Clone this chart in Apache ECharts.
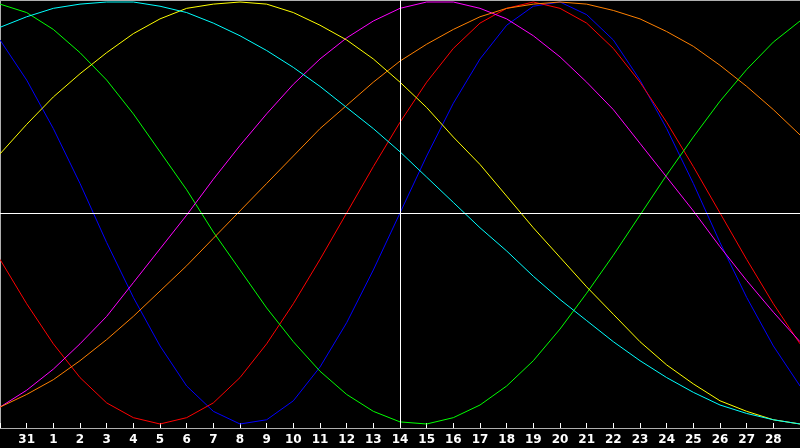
<!DOCTYPE html>
<html>
<head>
<meta charset="utf-8">
<script src="https://cdn.jsdelivr.net/npm/echarts@6/dist/echarts.min.js"></script>
<style>
  html, body { margin: 0; padding: 0; background: #000; }
  #chart { width: 800px; height: 448px; }
</style>
</head>
<body>
<div id="chart"></div>
<script>
// days shown on the axis (first and last are the edges, no label)
var dayLabels = ['30', '31', '1', '2', '3', '4', '5', '6', '7', '8', '9', '10', '11', '12', '13', '14',
    '15', '16', '17', '18', '19', '20', '21', '22', '23', '24', '25', '26', '27', '28', '29'];
var today = '14';

var physical = [0.82, 0.63, 0.40, 0.14, -0.14, -0.40, -0.63, -0.82, -0.94, -1.00, -0.98, -0.89, -0.73, -0.52, -0.27,
    0.00, 0.27, 0.52, 0.73, 0.89, 0.98, 1.00, 0.94, 0.82, 0.63, 0.40, 0.14, -0.14, -0.40, -0.63, -0.82];
var emotional = [-0.22, -0.43, -0.62, -0.78, -0.90, -0.97, -1.00, -0.97, -0.90, -0.78, -0.62, -0.43, -0.22, 0.00, 0.22,
    0.43, 0.62, 0.78, 0.90, 0.97, 1.00, 0.97, 0.90, 0.78, 0.62, 0.43, 0.22, 0.00, -0.22, -0.43, -0.62];
var intellectual = [0.99, 0.95, 0.87, 0.76, 0.63, 0.47, 0.29, 0.11, -0.09, -0.27, -0.45, -0.61, -0.75, -0.86, -0.94,
    -0.99, -1.00, -0.97, -0.91, -0.82, -0.70, -0.55, -0.38, -0.20, -0.01, 0.18, 0.36, 0.53, 0.68, 0.81, 0.91];
var intuitive = [-0.92, -0.84, -0.74, -0.62, -0.49, -0.33, -0.17, -0.01, 0.16, 0.32, 0.47, 0.61, 0.73, 0.83, 0.91,
    0.97, 1.00, 1.00, 0.97, 0.92, 0.84, 0.74, 0.62, 0.49, 0.33, 0.17, 0.01, -0.16, -0.32, -0.47, -0.61];
var aesthetic = [0.28, 0.42, 0.55, 0.66, 0.76, 0.85, 0.92, 0.97, 0.99, 1.00, 0.99, 0.95, 0.89, 0.82, 0.73,
    0.62, 0.50, 0.36, 0.23, 0.08, -0.07, -0.21, -0.35, -0.48, -0.61, -0.72, -0.81, -0.89, -0.94, -0.98, -1.00];
var awareness = [-0.92, -0.86, -0.79, -0.70, -0.60, -0.49, -0.37, -0.25, -0.12, 0.01, 0.14, 0.27, 0.40, 0.51, 0.62,
    0.72, 0.80, 0.87, 0.93, 0.97, 0.99, 1.00, 0.99, 0.96, 0.92, 0.86, 0.79, 0.70, 0.60, 0.49, 0.37];
var spiritual = [0.88, 0.93, 0.97, 0.99, 1.00, 1.00, 0.98, 0.95, 0.90, 0.84, 0.77, 0.69, 0.60, 0.50, 0.40,
    0.29, 0.17, 0.05, -0.07, -0.18, -0.30, -0.41, -0.51, -0.61, -0.70, -0.78, -0.85, -0.91, -0.95, -0.98, -1.00];

var seriesList = [
    { name: 'Physical', data: physical, color: '#0000ff' },
    { name: 'Emotional', data: emotional, color: '#ff0000' },
    { name: 'Intellectual', data: intellectual, color: '#00ff00' },
    { name: 'Intuitive', data: intuitive, color: '#ff00ff' },
    { name: 'Awareness', data: awareness, color: '#ff8000' },
    { name: 'Aesthetic', data: aesthetic, color: '#ffff00' },
    { name: 'Spiritual', data: spiritual, color: '#00ffff' }
];

var chart = echarts.init(document.getElementById('chart'));

var series = seriesList.map(function (s) {
    return {
        name: s.name,
        type: 'line',
        data: s.data,
        symbol: 'none',
        silent: true,
        lineStyle: { color: s.color, width: 1 },
        itemStyle: { color: s.color },
        animation: false
    };
});

// crosshair: today and the zero line
series.unshift({
    type: 'line',
    data: [],
    markLine: {
        silent: true,
        symbol: 'none',
        label: { show: false },
        lineStyle: { color: '#ffffff', width: 1, type: 'solid' },
        data: [{ xAxis: today }, { yAxis: 0 }]
    },
    animation: false
});

var edgeOnly = function (i) { return i > 0 && i < dayLabels.length - 1; };

var option = {
    backgroundColor: '#000000',
    animation: false,
    grid: { left: 0, right: 0, top: 0, height: 428 },
    xAxis: [{
        type: 'category',
        data: dayLabels,
        boundaryGap: false,
        axisLine: { onZero: false, lineStyle: { color: '#b0b0b0', width: 1 } },
        axisTick: { inside: true, length: 5, interval: 0, lineStyle: { color: '#ffffff' } },
        axisLabel: {
            interval: function (i) { return edgeOnly(i); },
            color: '#ffffff',
            fontFamily: 'DejaVu Sans',
            fontWeight: 'bold',
            fontSize: 12,
            margin: 6
        },
        splitLine: { show: false }
    }, {
        type: 'category',
        position: 'top',
        data: dayLabels,
        boundaryGap: false,
        axisLine: { onZero: false, lineStyle: { color: '#b0b0b0', width: 1 } },
        axisTick: { show: false },
        axisLabel: { show: false }
    }],
    yAxis: {
        type: 'value',
        min: -1.019,
        max: 1.0095,
        axisLine: { show: true, onZero: false, lineStyle: { color: '#b0b0b0', width: 1 } },
        axisTick: { show: false },
        axisLabel: { show: false },
        splitLine: { show: false }
    },
    series: series
};

option && chart.setOption(option);
</script>
</body>
</html>
